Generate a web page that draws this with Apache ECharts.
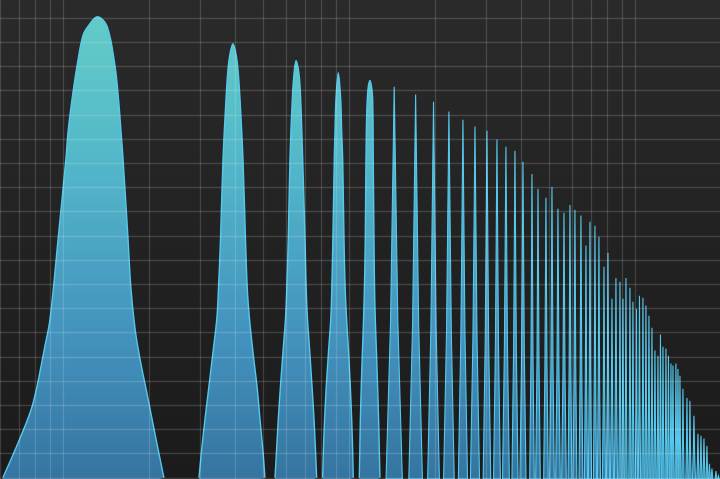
<!DOCTYPE html>
<html>
<head>
<meta charset="utf-8">
<script src="https://cdn.jsdelivr.net/npm/echarts@6/dist/echarts.min.js"></script>
<style>
html,body{margin:0;padding:0;background:#232323;}
#chart{width:720px;height:479px;}
</style>
</head>
<body>
<div id="chart"></div>
<script>
// Frequency (Hz, log axis) and level of the five broad low harmonics
const peak1 = [[30.7,0],[35.2,8.1],[39.1,15.3],[43.1,27.3],[44.9,32.9],[47.9,49.4],[51.0,65.9],[51.9,71.5],[53.6,78.3],[55.8,85.2],[58.5,91.4],[61.1,93.4],[65.7,95.3],[71.0,93.4],[75.7,85.2],[77.9,78.3],[79.5,71.5],[80.8,65.9],[84.1,49.4],[86.1,39.1],[89.0,30.8],[92.6,24.6],[98.0,17.4],[102.8,11.2],[107.9,5.0],[112.3,0]];
const peak2 = [[148.9,0],[151.9,5.4],[156.3,12.2],[161.4,19.0],[166.7,26.0],[171.9,32.9],[174.2,39.1],[177.1,49.4],[180.7,65.9],[185.1,78.3],[188.1,84.5],[191.1,87.6],[195.8,89.7],[200.6,87.6],[203.8,84.5],[207.2,78.3],[212.2,65.9],[216.5,49.4],[219.7,39.1],[223.6,32.9],[230.0,26.0],[237.5,19.0],[243.3,12.2],[249.3,5.4],[253.3,0]];
const peak3 = [[274.6,0],[277.9,5.4],[282.0,12.2],[287.0,19.0],[292.8,26.0],[298.8,32.9],[301.9,39.1],[305.6,49.4],[309.8,65.9],[315.6,78.3],[320.0,83.5],[325.2,86.2],[333.1,83.5],[337.7,78.3],[343.2,65.9],[349.6,49.4],[353.0,39.1],[356.7,32.9],[363.4,26.0],[369.9,19.0],[375.9,12.2],[380.7,5.4],[384.1,0]];
const peak4 = [[403.1,0],[405.4,5.4],[409.4,12.2],[415.0,19.0],[422.4,26.0],[430.3,32.9],[433.8,39.1],[437.6,49.4],[442.6,65.9],[445.1,71.5],[448.7,78.3],[457.1,83.7],[466.0,78.3],[469.8,71.5],[473.6,65.9],[478.6,49.4],[483.2,39.1],[488.7,32.9],[496.6,26.0],[503.5,19.0],[509.1,12.2],[513.3,5.4],[515.7,0]];
const peak5 = [[541.3,0],[543.5,5.4],[546.1,12.2],[550.1,19.0],[555.0,26.0],[560.3,32.9],[564.0,39.1],[568.1,49.4],[571.3,65.9],[577.3,78.3],[590.0,82.1],[602.9,78.3],[605.8,65.9],[609.3,49.4],[612.2,39.1],[615.7,32.9],[621.7,26.0],[627.2,19.0],[632.3,12.2],[636.3,5.4],[639.4,0]];

// Narrow upper harmonics: frequency (Hz) and peak level
const spikeHz = [717,852,984,1114,1247,1374,1513,1640,1763,1896,2022,2174,2282,2433,2554,2680,2813,2952,3073,3225,3358,3468,3610,3728,3882,4009,4140,4275,4415,4523,4634,4785,4902,5042,5166,5313,5443,5576,5713,5852,5995,6117,6242,6394,6524,6657,6765,6930,7043,7157,7332,7572,7757,8011,8273,8476,8683,8895,9076,9260,9564,9758];
const spikeLevel = [80.8,79.2,77.7,75.7,74.0,72.6,71.7,69.9,68.4,67.6,65.3,62.8,59.7,57.9,60.1,55.6,54.8,56.4,55.4,54.2,48.0,52.9,52.1,49.8,43.6,46.5,37.0,41.3,40.5,37.0,41.3,39.3,36.4,34.9,37.6,37.2,35.6,33.5,31.0,26.3,25.2,29.6,27.1,26.7,25.2,23.6,23.2,23.6,22.5,21.1,18.4,16.5,15.9,12.8,9.1,8.7,8.1,6.6,2.9,1.9,1.4,0.4];

// Grid lines
const gridHz = [30,35,40,45,50,100,150,200,250,300,350,400,450,500,1000,1500,2000,2500,3000,3500,4000,4500,5000];
const gridLevels = [0,5,10,15,20,25,30,35,40,45,50,55,60,65,70,75,80,85,90,95];

const H = 479;
function areaFill() {
  return new echarts.graphic.LinearGradient(0, 0, 0, H, [
    {offset: 0, color: '#64cec6'},
    {offset: 0.35, color: '#52b6c9'},
    {offset: 0.7, color: '#4392be'},
    {offset: 1, color: '#3574a0'}
  ], true);
}
const strokeColor = '#55c8ec';

const broadPeaks = [peak1, peak2, peak3, peak4, peak5];
const lastBroadHz = peak5.reduce((a, b) => (b[1] > a[1] ? b : a))[0];

const series = broadPeaks.map(p => ({
  type: 'line',
  data: p,
  showSymbol: false,
  symbol: 'none',
  smooth: 0.35,
  z: 2,
  clip: true,
  lineStyle: {color: strokeColor, width: 1.4},
  areaStyle: {color: areaFill(), opacity: 1, origin: 'start'},
  silent: true
}));

series.push({
  type: 'custom',
  z: 3,
  clip: true,
  silent: true,
  data: spikeHz.map((h, i) => [h, spikeLevel[i]]),
  encode: {x: 0, y: 1},
  renderItem: function (params, api) {
    const i = params.dataIndex;
    const hz = api.value(0), lv = api.value(1);
    const top = api.coord([hz, lv]);
    const bottomY = params.coordSys.y + params.coordSys.height;
    const prevHz = i > 0 ? spikeHz[i - 1] : lastBroadHz;
    let gap = top[0] - api.coord([prevHz, 0])[0];
    if (i < spikeHz.length - 1) gap = Math.min(gap, api.coord([spikeHz[i + 1], 0])[0] - top[0]);
    const hw = Math.max(1, gap * 0.38);
    const h = bottomY - top[1];
    const midY = bottomY - h * 0.4;
    return {
      type: 'polygon',
      shape: {smooth: 0, points: [[top[0] - hw, bottomY], [top[0] - hw * 0.45, midY], [top[0], top[1]], [top[0] + hw * 0.45, midY], [top[0] + hw, bottomY]]},
      style: {fill: areaFill(), stroke: strokeColor, lineWidth: 1.1}
    };
  }
});

series.push({
  type: 'line',
  data: [[30, -0.25]],
  showSymbol: false,
  symbol: 'none',
  lineStyle: {width: 0},
  z: 10,
  silent: true,
  markLine: {
    silent: true,
    symbol: ['none', 'none'],
    animation: false,
    label: {show: false},
    lineStyle: {color: 'rgba(255,255,255,0.15)', width: 1.3, type: 'solid'},
    emphasis: {disabled: true},
    data: gridHz.map(v => ({xAxis: v})).concat(gridLevels.map(v => ({yAxis: v})))
  }
});

const chart = echarts.init(document.getElementById('chart'), null, {renderer: 'canvas'});
chart.setOption({
  animation: false,
  backgroundColor: new echarts.graphic.LinearGradient(0, 0, 0, 1, [
    {offset: 0, color: '#2a2a2b'},
    {offset: 0.5, color: '#222222'},
    {offset: 1, color: '#1b1b1b'}
  ]),
  grid: {left: 0, right: 0, top: 0, bottom: 0, containLabel: false},
  xAxis: {type: 'log', logBase: 10, min: 30, max: 9880, show: false, splitLine: {show: false}},
  yAxis: {type: 'value', min: -0.25, max: 98.75, show: false, splitLine: {show: false}},
  tooltip: {show: false},
  series: series
});
</script>
</body>
</html>
